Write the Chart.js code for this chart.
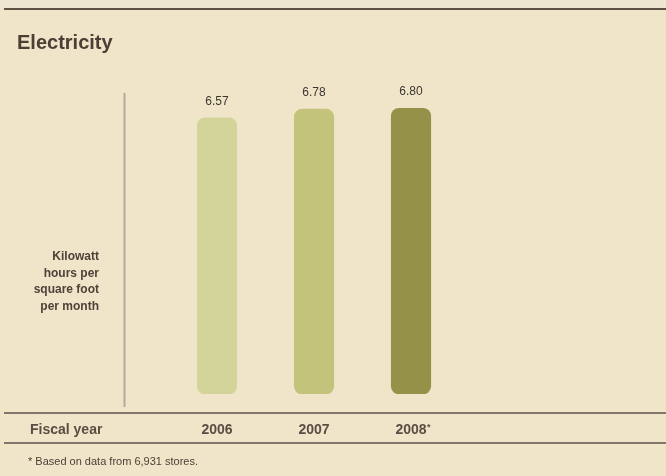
<!DOCTYPE html>
<html>
<head>
<meta charset="utf-8">
<script src="https://cdn.jsdelivr.net/npm/chart.js@4/dist/chart.umd.min.js"></script>
<style>
  html, body { margin: 0; padding: 0; background: #f1e5c9; }
  #wrap { position: relative; width: 666px; height: 476px; }
</style>
</head>
<body>
<div id="wrap"><canvas id="c" width="666" height="476"></canvas></div>
<script>
// ---- data ----
const categories = ['2006', '2007', '2008*'];
const kwhPerSqFt = [6.57, 6.78, 6.80];
const valueLabels = ['6.57', '6.78', '6.80'];
const chartTitle = 'Electricity';
const yAxisLabel = ['Kilowatt', 'hours per', 'square foot', 'per month'];
const xAxisLabel = 'Fiscal year';
const footnote = '* Based on data from 6,931 stores.';

// ---- styles ----
const barColors = ['#d3d499', '#c3c37b', '#949249'];
const textDark = '#4b3f36';
const FONT = 'Arial, "Liberation Sans", sans-serif';

const decor = {
  id: 'decor',
  beforeDraw(chart) {
    const ctx = chart.ctx;
    const area = chart.chartArea;
    ctx.save();
    ctx.fillStyle = '#f1e5c9';
    ctx.fillRect(0, 0, chart.width, chart.height);
    ctx.fillStyle = '#efe6d2';
    ctx.fillRect(0, 0, chart.width, 8);
    // top rule
    ctx.fillStyle = '#5e5043';
    ctx.fillRect(4, 8, chart.width - 4, 2);
    // axis baseline rules
    ctx.fillStyle = '#80776a';
    ctx.fillRect(4, area.bottom + 18, chart.width - 4, 2);
    ctx.fillRect(4, area.bottom + 48, chart.width - 4, 2);
    // vertical axis line
    ctx.fillStyle = '#b3ab9a';
    ctx.fillRect(area.left - 45, area.top - 1, 2, area.bottom - area.top + 14);
    ctx.restore();
  },
  afterDraw(chart) {
    const ctx = chart.ctx;
    const area = chart.chartArea;
    ctx.save();
    // title
    ctx.fillStyle = textDark;
    ctx.font = 'bold 20px ' + FONT;
    ctx.textAlign = 'left';
    ctx.textBaseline = 'alphabetic';
    ctx.fillText(chartTitle, 17, 49);
    // y label
    ctx.font = 'bold 12px ' + FONT;
    ctx.fillStyle = '#4e4239';
    ctx.textAlign = 'right';
    ctx.textBaseline = 'middle';
    yAxisLabel.forEach((t, i) => ctx.fillText(t, 99, 257 + i * 16.4));
    // x label
    ctx.font = 'bold 14px ' + FONT;
    ctx.fillStyle = '#5a4e44';
    ctx.textAlign = 'left';
    ctx.fillText(xAxisLabel, 30, 430.5);
    // footnote markers on category labels (small superscript asterisk)
    const xs = chart.scales.x;
    categories.forEach((c, i) => {
      if (c.endsWith('*')) {
        const base = c.slice(0, -1);
        const w = ctx.measureText(base).width;
        const cx = xs.getPixelForValue(i);
        ctx.save();
        ctx.font = 'bold 9px ' + FONT;
        ctx.textAlign = 'left';
        ctx.fillText('*', cx + w / 2 + 0.5, 428);
        ctx.restore();
      }
    });
    // footnote
    ctx.font = '11px ' + FONT;
    ctx.fillStyle = '#4b3f36';
    ctx.fillText(footnote, 28, 461.5);
    // value labels
    ctx.font = '12px ' + FONT;
    ctx.fillStyle = '#3b3630';
    ctx.textAlign = 'center';
    const meta = chart.getDatasetMeta(0);
    meta.data.forEach((bar, i) => {
      ctx.fillText(valueLabels[i], bar.x, bar.y - 16.5);
    });
    ctx.restore();
  }
};

new Chart(document.getElementById('c'), {
  type: 'bar',
  data: {
    labels: categories,
    datasets: [{
      data: kwhPerSqFt,
      backgroundColor: barColors,
      borderWidth: 0,
      borderRadius: 8,
      borderSkipped: false,
      barThickness: 39.5
    }]
  },
  options: {
    responsive: false,
    animation: false,
    events: [],
    layout: { padding: { left: 168.5, right: 206.5, top: 94, bottom: 0 } },
    plugins: { legend: { display: false }, tooltip: { enabled: false }, title: { display: false } },
    scales: {
      y: { display: false, min: 0, max: 7.14 },
      x: {
        grid: { display: false, drawTicks: false },
        border: { display: false },
        ticks: {
          color: '#5a4e44',
          font: { family: FONT, size: 14, weight: 'bold' },
          padding: 28,
          maxRotation: 0,
          callback(value, index) { return categories[index].replace('*', ''); }
        },
        afterFit(scale) { scale.height = 82; }
      }
    }
  },
  plugins: [decor]
});
</script>
</body>
</html>
